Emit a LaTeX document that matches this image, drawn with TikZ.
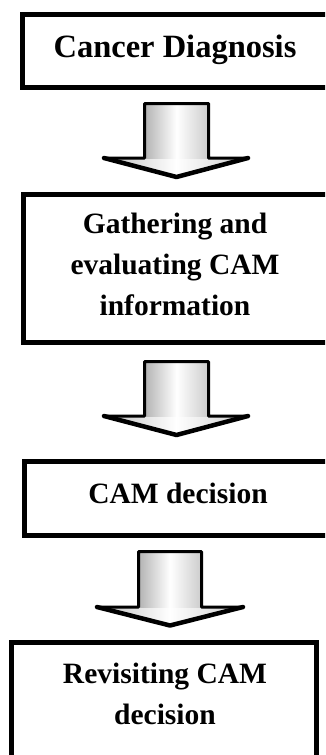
\documentclass[tikz,border=0pt]{standalone}
\usepackage{fontspec}
\setmainfont{Liberation Serif}
\newcommand{\bigdownarrow}[8]{%
  \path[left color=gray!50, right color=gray!40, middle color=white]
    (#5,#4) -- (#1,#4) -- (#1,#3) -- (#2,#3) -- (#2,#4) -- (#6,#4) -- (#7,#8) -- cycle;
  \path[left color=gray!60, right color=gray!40, middle color=white]
    (#1,#4) rectangle (#2,#3);
  \draw[arrowline] (#5,#4) -- (#1,#4) -- (#1,#3) -- (#2,#3) -- (#2,#4) -- (#6,#4) -- (#7,#8) -- cycle;
  \draw[arrowedge] (#5,#4) -- (#7,#8) -- (#6,#4);
}
\begin{document}
\begin{tikzpicture}[x=1pt,y=-1pt,
  box/.style={draw=black, line width=4.5pt, inner sep=0pt, outer sep=0pt},
  bigtext/.style={font=\bfseries\fontsize{32.5}{40}\selectfont},
  boxtext/.style={font=\bfseries\fontsize{29.5}{41}\selectfont, align=center, inner sep=0pt},
  arrowline/.style={draw=black, line width=3pt, line join=round},
  arrowedge/.style={draw=black, line width=4.5pt, line join=round, line cap=round}]
\useasboundingbox (0,0) rectangle (325,755);
\clip (0,0) rectangle (325,755);
\fill[white] (0,0) rectangle (325,755);
% boxes
\node[box, minimum width=309.5pt, minimum height=73pt] (b1) at (177.25,51) {};
\node[box, minimum width=309.5pt, minimum height=148pt] (b2) at (178.25,268.5) {};
\node[box, minimum width=308.5pt, minimum height=74pt] (b3) at (178.75,498.5) {};
\node[box, minimum width=305pt, minimum height=127.5pt] (b4) at (164,706.25) {};
% texts
\node[bigtext, anchor=base, inner sep=0pt] (t1) at (175,57) {Cancer Diagnosis};
\node[boxtext] (t2) at (175,264.5) {Gathering and\\evaluating CAM\\information};
\node[boxtext, anchor=base] (t3) at (178,503) {CAM decision};
\node[boxtext] (t4) at (165,693.5) {Revisiting CAM\\decision};
% block arrows
\bigdownarrow{144.5}{208.5}{103.5}{158}{104}{248}{176.5}{177}
\bigdownarrow{144.5}{208.5}{361.5}{416}{104}{248}{176.5}{435}
\bigdownarrow{138.5}{201.5}{551.5}{607}{97}{243}{170}{625.5}
\end{tikzpicture}
\end{document}
